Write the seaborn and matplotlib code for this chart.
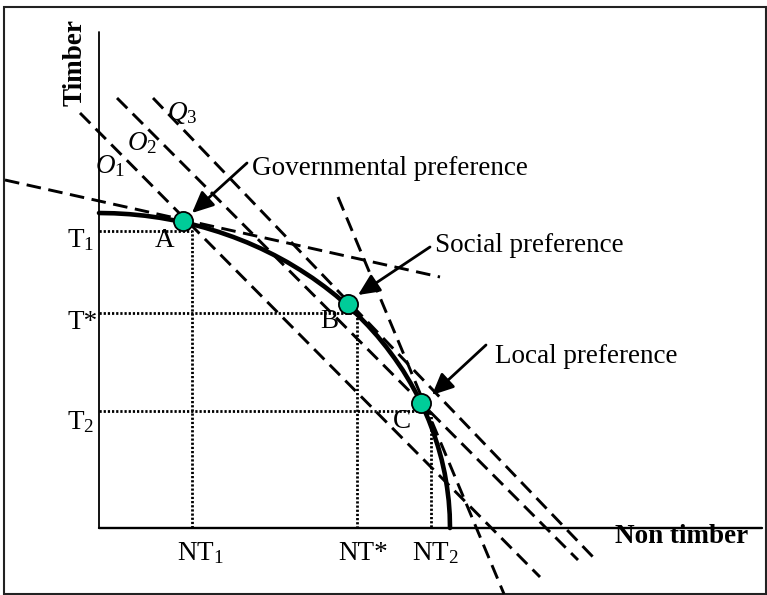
import matplotlib.pyplot as plt
from matplotlib.patches import Rectangle
import seaborn as sns
import pandas as pd

# production possibility frontier (units = pixels from the origin)
ppf_x = [0, 15.3, 30.6, 45.8, 60.9, 76.0, 90.8, 105.5, 120.0, 134.3, 148.3, 162.1,
         175.5, 188.6, 201.3, 213.7, 225.6, 237.1, 248.2, 258.8, 268.9, 278.5,
         287.5, 296.0, 304.0, 311.3, 318.1, 324.3, 329.8, 334.7, 339.0, 342.7,
         345.7, 348.0, 349.7, 350.7, 351.0]
ppf_y = [315, 314.7, 313.8, 312.3, 310.2, 307.5, 304.3, 300.4, 296.0, 291.0, 285.5,
         279.4, 272.8, 265.7, 258.0, 249.9, 241.3, 232.3, 222.7, 212.8, 202.5,
         191.8, 180.7, 169.2, 157.5, 145.4, 133.1, 120.6, 107.7, 94.7, 81.5, 68.2,
         54.7, 41.1, 27.5, 13.7, 0]

# preference points on the frontier
pt_names = ['A', 'B', 'C']
pt_x = [84, 249, 322]
pt_y = [307, 224, 125]

# dashed lines: tangents and iso lines O1, O2, Q3
line_names = ['gov', 'local', 'O1', 'O2', 'Q3']
line_x0 = [-94, 239, -19, 18, 54]
line_y0 = [348, 331, 415, 430, 430]
line_x1 = [341, 405, 441, 479, 494]
line_y1 = [251, -66, -49, -32, -29]

# dotted guides
t_levels = [297, 215, 117]
nt_levels = [93, 258, 332]
t_labels = [r'T$_1$', 'T*', r'T$_2$']
nt_labels = [r'NT$_1$', 'NT*', r'NT$_2$']

# annotations
notes = ['Governmental preference', 'Social preference', 'Local preference']
note_xy = [(153, 353), (336, 276), (396, 165)]
arrow_tail = [(148, 365), (331, 281), (387, 183)]
arrow_tip = [(93, 315), (259, 233), (333, 133)]

sns.set_style('white')
plt.rcParams['font.family'] = ['Liberation Serif', 'DejaVu Serif']
plt.rcParams['text.color'] = 'black'
plt.rcParams['mathtext.fontset'] = 'custom'
plt.rcParams['mathtext.rm'] = 'Liberation Serif'
plt.rcParams['mathtext.it'] = 'Liberation Serif:italic'
plt.rcParams['mathtext.bf'] = 'Liberation Serif:bold'

fig = plt.figure(figsize=(7.67, 5.95), dpi=100)
ax = fig.add_axes([0, 0, 1, 1])
ax.set_xlim(-99, 668)
ax.set_ylim(-67, 528)
ax.axis('off')

# outer frame
ax.add_patch(Rectangle((-95, -66), 762, 587, fill=False, lw=1.5, ec='#222222'))

# axes
ax.plot([0, 0], [0, 496], color='black', lw=1.3)
ax.plot([0, 663], [0, 0], color='black', lw=1.7)

# dotted guides
for t, nt in zip(t_levels, nt_levels):
    sns.lineplot(x=[0, nt, nt], y=[t, t, 0], sort=False, estimator=None, ax=ax,
                 color='black', lw=2, linestyle=(0, (0.8, 0.7)))

# dashed lines
lines = pd.DataFrame({'name': line_names, 'x0': line_x0, 'y0': line_y0,
                      'x1': line_x1, 'y1': line_y1})
for _, r in lines.iterrows():
    sns.lineplot(x=[r.x0, r.x1], y=[r.y0, r.y1], sort=False, estimator=None, ax=ax,
                 color='black', lw=2.1, linestyle=(0, (5, 2.6)))

# frontier
sns.lineplot(x=ppf_x, y=ppf_y, sort=False, estimator=None, ax=ax,
             color='black', lw=3.3, zorder=4, solid_joinstyle='round')

# points
sns.scatterplot(x=pt_x, y=pt_y, ax=ax, s=190, color='#00cc99',
                edgecolor='black', linewidth=1.3, zorder=5)

fs = 19.5
# point labels
for name, (x, y) in zip(pt_names, [(56, 281), (221, 200), (294, 100)]):
    ax.text(x, y, name, fontsize=fs, va='baseline', ha='left')

# axis level labels
for lab, y in zip(t_labels, [281, 199, 99]):
    ax.text(-32, y, lab, fontsize=fs, va='baseline', ha='left')
for lab, x in zip(nt_labels, [78, 239, 313]):
    ax.text(x, -32, lab, fontsize=fs, va='baseline', ha='left')

# iso line labels
for lab, (x, y) in zip([r'$\mathit{O_1}$', r'$\mathit{O_2}$', r'$\mathit{Q_3}$'],
                       [(-4, 355), (28, 378), (68, 408)]):
    ax.text(x, y, lab, fontsize=fs, va='baseline', ha='left')

# axis titles
ax.text(-24, 465, 'Timber', fontsize=fs, fontweight='bold', rotation=90,
        ha='center', va='center')
ax.text(516, -15, 'Non timber', fontsize=fs, fontweight='bold', va='baseline', ha='left')

# preference notes with arrows
for txt, xy, tail, tip in zip(notes, note_xy, arrow_tail, arrow_tip):
    ax.text(xy[0], xy[1], txt, fontsize=fs, va='baseline', ha='left')
    ax.annotate('', xy=tip, xytext=tail,
                arrowprops=dict(arrowstyle='-|>,head_length=0.65,head_width=0.3',
                                color='black', lw=2, mutation_scale=20,
                                shrinkA=0, shrinkB=0), zorder=6)

fig.savefig('out.png', dpi=100)
